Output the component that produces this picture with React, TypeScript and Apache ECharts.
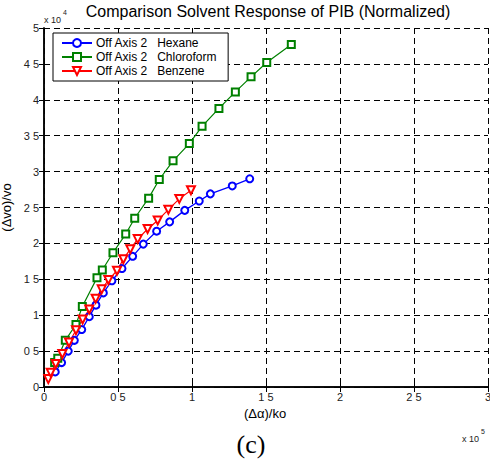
import React, { useEffect, useRef } from "react";
import * as echarts from "echarts";

// x in units of 1e5, y in units of 1e4
const hexaneX = [0.076, 0.119, 0.164, 0.205, 0.255, 0.306, 0.351, 0.401, 0.459, 0.527, 0.599, 0.671, 0.761, 0.849, 0.951, 1.049, 1.124, 1.272, 1.39];
const hexaneY = [0.21, 0.34, 0.5, 0.65, 0.8, 0.98, 1.14, 1.31, 1.48, 1.65, 1.82, 1.99, 2.17, 2.3, 2.46, 2.59, 2.69, 2.8, 2.9];

const chloroX = [0.072, 0.093, 0.144, 0.216, 0.259, 0.358, 0.394, 0.466, 0.552, 0.613, 0.707, 0.779, 0.872, 0.982, 1.068, 1.182, 1.293, 1.399, 1.505, 1.671];
const chloroY = [0.34, 0.4, 0.65, 0.87, 1.12, 1.52, 1.63, 1.87, 2.13, 2.35, 2.63, 2.89, 3.15, 3.39, 3.63, 3.88, 4.11, 4.32, 4.52, 4.77];

const benzeneX = [0.029, 0.045, 0.079, 0.124, 0.169, 0.216, 0.261, 0.306, 0.349, 0.39, 0.435, 0.493, 0.536, 0.583, 0.633, 0.7, 0.768, 0.84, 0.914, 0.993];
const benzeneY = [0.11, 0.2, 0.32, 0.46, 0.62, 0.79, 0.94, 1.08, 1.23, 1.36, 1.49, 1.62, 1.78, 1.92, 2.06, 2.2, 2.32, 2.47, 2.62, 2.74];

const seriesNames = ["Off Axis 2   Hexane", "Off Axis 2   Chloroform", "Off Axis 2   Benzene"];
const xTickLabels: Record<string, string> = { "0": "0", "0.5": "0 5", "1": "1", "1.5": "1 5", "2": "2", "2.5": "2 5", "3": "3" };
const yTickLabels: Record<string, string> = { "0": "0", "0.5": "0 5", "1": "1", "1.5": "1 5", "2": "2", "2.5": "2 5", "3": "3", "3.5": "3 5", "4": "4", "4.5": "4 5", "5": "5" };

const FONT = "Liberation Sans, Arial, Helvetica, sans-serif";

const pairs = (xs: number[], ys: number[]) => xs.map((x, i) => [x, ys[i]]);

export default function App() {
  const ref = useRef<HTMLDivElement>(null);
  useEffect(() => {
    if (!ref.current) return;
    const chart = echarts.init(ref.current, undefined, { renderer: "svg" });
    const dash = [6, 4];
    const common = {
      axisLine: { show: true, lineStyle: { color: "#000", width: 1.5 } },
      axisTick: { show: true, inside: true, length: 5, lineStyle: { color: "#000" } },
      splitLine: { show: false },
    };
    const expRich = {
      a: { fontFamily: FONT, fontSize: 9, fill: "#222", verticalAlign: "bottom" },
      s: { fontFamily: FONT, fontSize: 7, fill: "#222", padding: [0, 0, 8, 2] },
    };
    chart.setOption({
      animation: false,
      backgroundColor: "#fff",
      grid: { left: 44, right: 2, top: 28, bottom: 78, containLabel: false, outerBoundsMode: "none" },
      legend: {
        orient: "vertical",
        left: 53,
        top: 33,
        padding: [4, 11, 4, 8],
        itemGap: 2,
        itemWidth: 30,
        itemHeight: 10,
        backgroundColor: "#fff",
        borderColor: "#000",
        borderWidth: 1,
        borderRadius: 0,
        textStyle: { fontFamily: FONT, fontSize: 12, color: "#000", padding: [0, 0, 0, -1] },
        data: seriesNames,
      },
      xAxis: [
        {
          type: "value",
          min: 0,
          max: 3,
          interval: 0.5,
          ...common,
          splitLine: { show: true, lineStyle: { color: "#000", type: dash, width: 1 } },
          axisLabel: {
            fontFamily: FONT,
            fontSize: 11,
            color: "#222",
            margin: 4,
            formatter: (v: number) => xTickLabels[String(v)] ?? String(v),
          },
        },
        {
          type: "value",
          position: "top",
          min: 0,
          max: 3,
          interval: 0.5,
          ...common,
          axisLabel: { show: false },
        },
      ],
      yAxis: [
        {
          type: "value",
          min: 0,
          max: 5,
          interval: 0.5,
          ...common,
          splitLine: { show: true, lineStyle: { color: "#000", type: dash, width: 1 } },
          axisLabel: {
            fontFamily: FONT,
            fontSize: 11,
            color: "#222",
            margin: 5,
            formatter: (v: number) => yTickLabels[String(v)] ?? String(v),
          },
          name: "(Δvo)/vo",
          nameLocation: "middle",
          nameGap: 20,
          nameTextStyle: { fontFamily: FONT, fontSize: 13, color: "#000" },
        },
        {
          type: "value",
          position: "right",
          min: 0,
          max: 5,
          interval: 0.5,
          ...common,
          axisLabel: { show: false },
        },
      ],
      graphic: [
        {
          type: "text",
          x: 268,
          y: 3,
          style: {
            text: "Comparison Solvent Response of PIB (Normalized)",
            fontFamily: FONT,
            fontSize: 16,
            fill: "#000",
            textAlign: "center",
            textVerticalAlign: "top",
          },
        },
        {
          type: "text",
          x: 265,
          y: 407,
          style: { text: "(Δα)/ko", fontFamily: FONT, fontSize: 13, fill: "#000", textAlign: "center", textVerticalAlign: "top" },
        },
        {
          type: "text",
          x: 251,
          y: 431,
          style: {
            text: "(c)",
            fontFamily: "Liberation Serif, Times New Roman, serif",
            fontSize: 26,
            fill: "#000",
            textAlign: "center",
            textVerticalAlign: "top",
          },
        },
        {
          type: "text",
          x: 44,
          y: 9,
          style: { text: "{a|x 10}{s|4}", rich: expRich },
        },
        {
          type: "text",
          x: 462,
          y: 428,
          style: { text: "{a|x 10}{s|5}", rich: expRich },
        },
      ],
      series: [
        {
          name: seriesNames[0],
          type: "line",
          data: pairs(hexaneX, hexaneY),
          symbol: "emptyCircle",
          symbolSize: 7,
          showAllSymbol: true,
          color: "#0000ff",
          lineStyle: { color: "#0000ff", width: 1.3 },
          itemStyle: { color: "#0000ff", borderColor: "#0000ff", borderWidth: 1.3 },
        },
        {
          name: seriesNames[1],
          type: "line",
          data: pairs(chloroX, chloroY),
          symbol: "emptyRect",
          symbolSize: 7,
          showAllSymbol: true,
          color: "#008000",
          lineStyle: { color: "#008000", width: 1.2 },
          itemStyle: { color: "#008000", borderColor: "#008000", borderWidth: 1.3 },
        },
        {
          name: seriesNames[2],
          type: "line",
          data: pairs(benzeneX, benzeneY),
          symbol: "emptyTriangle",
          symbolRotate: 180,
          symbolSize: 8,
          showAllSymbol: true,
          color: "#ff0000",
          lineStyle: { color: "#ff0000", width: 1.2 },
          itemStyle: { color: "#ff0000", borderColor: "#ff0000", borderWidth: 1.3 },
        },
      ],
    });
    return () => chart.dispose();
  }, []);
  return <div ref={ref} style={{ width: 490, height: 465, position: "absolute", left: 0, top: 0 }} />;
}
